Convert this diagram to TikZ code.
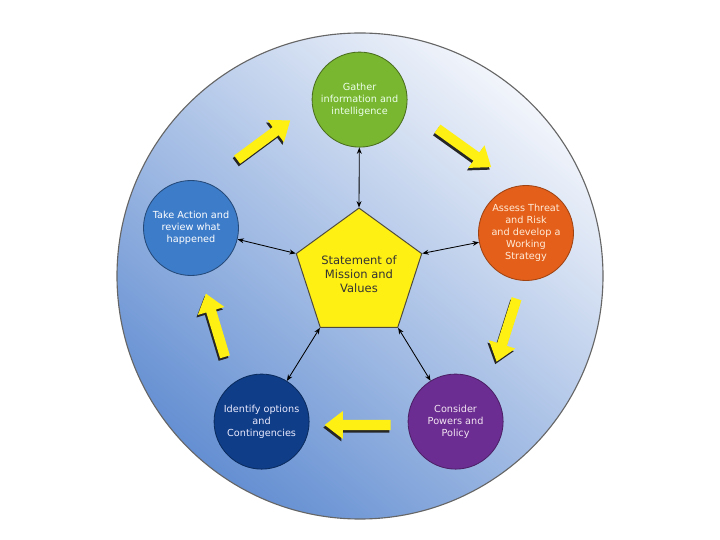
\documentclass[tikz,border=0pt]{standalone}
\usepackage{fontspec}
\setmainfont{DejaVu Sans}
\definecolor{cyclegreen}{RGB}{122,183,48}
\definecolor{cycleorange}{RGB}{228,95,26}
\definecolor{cycleblue}{RGB}{61,124,201}
\definecolor{cyclenavy}{RGB}{15,61,135}
\definecolor{cyclepurple}{RGB}{108,45,146}
\definecolor{cycleyellow}{RGB}{255,240,20}
\definecolor{bglight}{RGB}{242,245,251}
\definecolor{bgdark}{RGB}{100,143,210}
\usetikzlibrary{arrows.meta,positioning,shapes.geometric,shapes.arrows,shadows}

\tikzset{
  stage/.style={circle, minimum size=2.375cm, inner sep=0pt, align=center,
    font=\fontsize{6.9}{8.5}\selectfont, line width=0.6pt},
  conn/.style={{Stealth[length=4.5pt,width=3.5pt]}-{Stealth[length=4.5pt,width=3.5pt]}, line width=0.6pt, black},
  yarrow/.style={single arrow, fill=cycleyellow, draw=none, inner sep=0.12cm,
    single arrow head extend=0.22cm, single arrow tip angle=75, minimum height=1.65cm,
    drop shadow={shadow xshift=-1pt, shadow yshift=-1.8pt, opacity=1, fill=black!85}}
}

\begin{document}
\begin{tikzpicture}
  \useasboundingbox[fill=white] (0,0) rectangle (18,13.5);

  % Outer circle
  \shade[top color=bglight, bottom color=bgdark, shading angle=-40] (9,6.6) circle (6.075);
  \draw[black!60, line width=0.8pt] (9,6.6) circle (6.075);

  % Centre
  \node[regular polygon, regular polygon sides=5, minimum size=3.29cm, inner sep=0pt,
    fill=cycleyellow, draw=black!80!yellow, line width=0.7pt, align=center,
    font=\fontsize{8.2}{10}\selectfont, text=black!80] (mission) at (8.975,6.65)
    {Statement of\\Mission and\\Values};

  % Stages
  \node[stage, fill=cyclegreen, draw=cyclegreen!60!black, text=green!8] (gather) at (8.99,11.01)
    {Gather\\information and\\intelligence};
  \node[stage, fill=cycleorange, draw=cycleorange!70!black, text=orange!15] (assess) at (13.15,7.675)
    {Assess Threat\\and Risk\\and develop a\\Working\\Strategy};
  \node[stage, fill=cyclepurple, draw=cyclepurple!70!black, text=violet!10] (consider) at (11.39,2.96)
    {Consider\\Powers and\\Policy};
  \node[stage, fill=cyclenavy, draw=cyclenavy!70!black, text=white!92!blue] (identify) at (6.54,2.96)
    {Identify options\\and\\Contingencies};
  \node[stage, fill=cycleblue, draw=cycleblue!60!black, text=white] (action) at (4.775,7.8)
    {Take Action and\\review what\\happened};

  % Links to centre
  \draw[conn] (mission.corner 1) -- (gather);
  \draw[conn] (mission.corner 5) -- (assess);
  \draw[conn] (mission.corner 4) -- (consider);
  \draw[conn] (mission.corner 3) -- (identify);
  \draw[conn] (mission.corner 2) -- (action);

  % Cycle arrows
  \node[yarrow, rotate=36.5] (cyc1) at (6.525,9.95) {};
  \node[yarrow, rotate=-35.6] (cyc2) at (11.54,9.85) {};
  \node[yarrow, rotate=-107.6] (cyc3) at (12.69,5.325) {};
  \node[yarrow, rotate=180] (cyc4) at (9.025,2.875) {};
  \node[yarrow, rotate=106.8] (cyc5) at (5.41,5.29) {};
\end{tikzpicture}
\end{document}
